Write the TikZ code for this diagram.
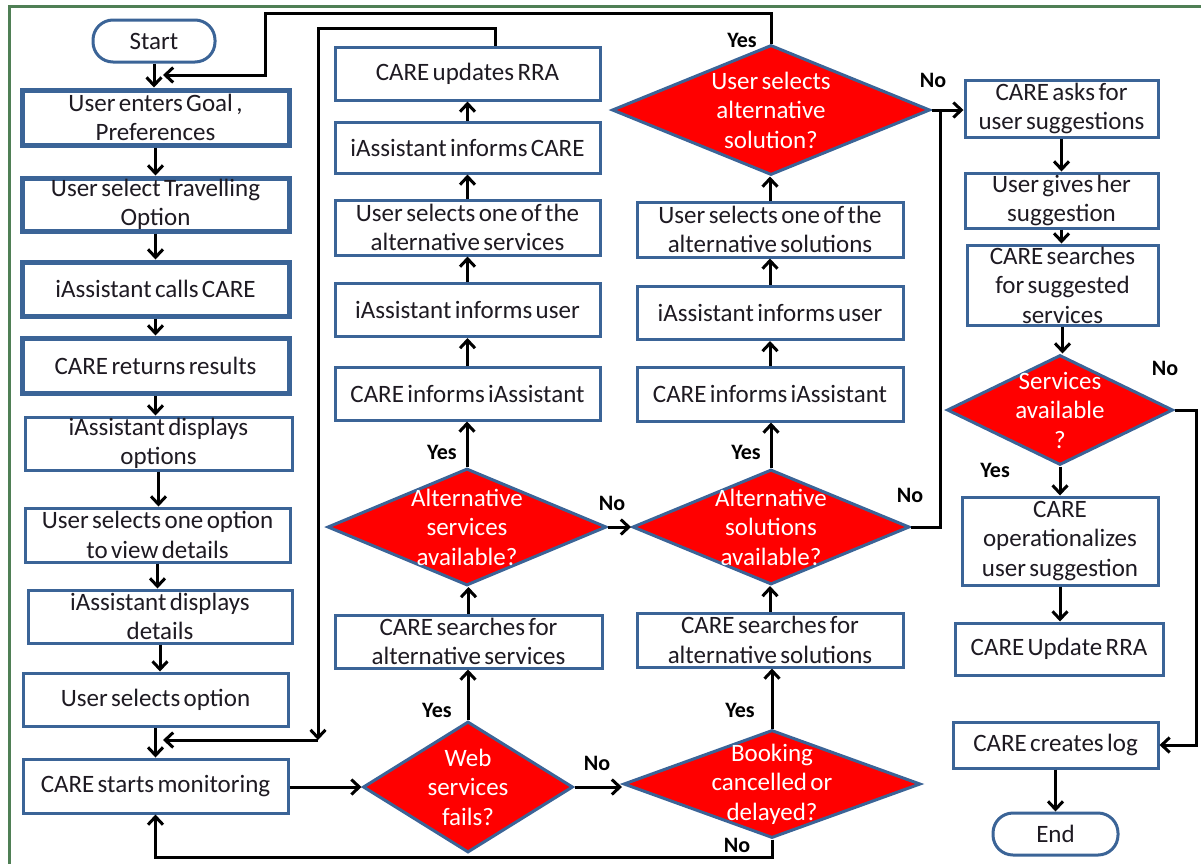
\documentclass[tikz,border=0pt]{standalone}
\usepackage{fontspec}
\setmainfont{Carlito}[WordSpace=0.6]
\usetikzlibrary{arrows.meta,shapes.geometric}
\definecolor{boxblue}{HTML}{3B6497}
\definecolor{framegreen}{HTML}{4F7F55}
\definecolor{txt}{HTML}{1E1A22}
\begin{document}
\begin{tikzpicture}[x=1pt,y=-1pt,
  every node/.style={font=\fontsize{25}{29.5}\selectfont, text=txt},
  proc/.style={rectangle, draw=boxblue, line width=3pt, fill=white, align=center,
    inner xsep=0pt, inner ysep=-8pt},
  heavy/.style={proc, line width=5pt},
  term/.style={proc, rounded corners=20pt},
  decision/.style={diamond, draw=boxblue, line width=3pt, fill=red, text=white,
    align=center, inner sep=-40pt},
  flow/.style={draw=black, line width=3pt},
  arr/.style={flow, -{Straight Barb[length=8pt,width=15pt]}},
  answer/.style={font=\fontsize{22}{26}\selectfont\bfseries, text=black, inner sep=0pt},
]
\useasboundingbox (0,0) rectangle (1201,863);

% outer frame
\draw[framegreen, line width=3pt] (9.5,900) -- (9.5,6.5) -- (1230,6.5);

% ---- left column: booking steps ----
\node[term, minimum width=122, minimum height=42] (start) at (154,41) {Start};
\node[heavy, minimum width=267, minimum height=55] (b1) at (155.5,117.5) {User enters Goal ,\\Preferences};
\node[heavy, minimum width=267, minimum height=53] (b2) at (155.5,204.5) {User select Travelling\\Option};
\node[heavy, minimum width=267, minimum height=54] (b3) at (155.5,289) {iAssistant calls CARE};
\node[heavy, minimum width=267, minimum height=55] (b4) at (155.5,365.5) {CARE returns results};
\node[proc, minimum width=267, minimum height=53] (b5) at (158.5,443.5) {iAssistant displays\\options};
\node[proc, minimum width=265, minimum height=54] (b6) at (157.5,535) {User selects one option\\to view details};
\node[proc, minimum width=264, minimum height=53] (b7) at (160,616.5) {iAssistant displays\\details};
\node[proc, minimum width=265, minimum height=53] (b8) at (155.5,699.5) {User selects option};
\node[proc, minimum width=265, minimum height=54] (b9) at (155.5,786) {CARE starts monitoring};

% ---- second column: failed web services ----
\node[proc, minimum width=265, minimum height=53] (m1) at (467.5,73.5) {CARE updates RRA};
\node[proc, minimum width=265, minimum height=51] (m2) at (467.5,147.5) {iAssistant informs CARE};
\node[proc, minimum width=265, minimum height=55] (m3) at (467.5,227.5) {User selects one of the\\alternative services};
\node[proc, minimum width=265, minimum height=53] (m4) at (467.5,310) {iAssistant informs user};
\node[proc, minimum width=265, minimum height=53] (m5) at (467.5,393.5) {CARE informs iAssistant};
\node[decision, minimum width=279, minimum height=117] (md1) at (467,527) {Alternative\\services\\available?};
\node[proc, minimum width=267, minimum height=53] (m6) at (468.5,641.5) {CARE searches for\\alternative services};
\node[decision, minimum width=210, minimum height=131] (md2) at (468,787) {Web\\services\\fails?};

% ---- third column: cancelled or delayed bookings ----
\node[decision, minimum width=318, minimum height=130] (nd3) at (771,110) {User selects\\alternative\\solution?};
\node[proc, minimum width=266, minimum height=55] (n1) at (770,229.5) {User selects one of the\\alternative solutions};
\node[proc, minimum width=266, minimum height=53] (n2) at (770,313) {iAssistant informs user};
\node[proc, minimum width=266, minimum height=54] (n3) at (770,394) {CARE informs iAssistant};
\node[decision, minimum width=277, minimum height=115] (nd2) at (771,527) {Alternative\\solutions\\available?};
\node[proc, minimum width=266, minimum height=54] (n4) at (770,640) {CARE searches for\\alternative solutions};
\node[decision, minimum width=297, minimum height=108] (nd1) at (772,784) {Booking\\cancelled or\\delayed?};

% ---- right column: user suggestions ----
\node[proc, minimum width=193, minimum height=57] (r1) at (1061.5,108.5) {CARE asks for\\user suggestions};
\node[proc, minimum width=193, minimum height=55] (r2) at (1061.5,200.5) {User gives her\\suggestion};
\node[proc, minimum width=191, minimum height=80] (r3) at (1062.5,285) {CARE searches\\for suggested\\services};
\node[decision, minimum width=226, minimum height=110] (rd) at (1060,410) {Services\\available\\?};
\node[proc, minimum width=196, minimum height=88] (r4) at (1060,541) {CARE\\operationalizes\\user suggestion};
\node[proc, minimum width=208, minimum height=52] (r5) at (1059,649) {CARE Update RRA};
\node[proc, minimum width=205, minimum height=46] (r6) at (1055.5,745) {CARE creates log};
\node[term, minimum width=125, minimum height=42] (end) at (1055.5,834) {End};

% junction points of the loop-back lines
\coordinate (upA) at (495,28);
\coordinate (upB) at (318,28);
\coordinate (upC) at (318,740);
\coordinate (upD) at (163,740);
\coordinate (topA) at (771,13);
\coordinate (topB) at (265,13);
\coordinate (topC) at (265,75);
\coordinate (topD) at (163,75);
\coordinate (sideA) at (940,110);
\coordinate (logA) at (1196,410);
\coordinate (logB) at (1196,745);
\coordinate (backA) at (155.5,857);

% left column flow
\draw[arr] (start.south) -- (start.south |- b1.north);
\draw[arr] (b1.south) -- (b1.south |- b2.north);
\draw[arr] (b2.south) -- (b2.south |- b3.north);
\draw[arr] (b3.south) -- (b3.south |- b4.north);
\draw[arr] (b4.south) -- (b4.south |- b5.north);
\draw[arr] (b5.south) -- (b5.south |- b6.north);
\draw[arr] (b6.south) -- (b6.south |- b7.north);
\draw[arr] (b7.south) -- (b7.south |- b8.north);
\draw[arr] (b8.south) -- (b8.south |- b9.north);
\draw[arr] (b9.east |- md2.west) -- (md2.west);

% second column flow
\draw[arr] (md2.north) -- (md2.north |- m6.south);
\draw[arr] (m6.north) -- (m6.north |- md1.south);
\draw[arr] (md1.north) -- (md1.north |- m5.south);
\draw[arr] (m5.north) -- (m5.north |- m4.south);
\draw[arr] (m4.north) -- (m4.north |- m3.south);
\draw[arr] (m3.north) -- (m3.north |- m2.south);
\draw[arr] (m2.north) -- (m2.north |- m1.south);
\draw[arr] (upA |- m1.north) -- (upA) -- (upB) -- (upC);
\draw[arr] (upC) -- (upD);
\draw[arr] (md1.east) -- (nd2.west);
\draw[arr] (md2.east) -- (md2.east -| nd1.west);

% third column flow
\draw[arr] (nd1.north) -- (nd1.north |- n4.south);
\draw[arr] (n4.north) -- (n4.north |- nd2.south);
\draw[arr] (nd2.north) -- (nd2.north |- n3.south);
\draw[arr] (n3.north) -- (n3.north |- n2.south);
\draw[arr] (n2.north) -- (n2.north |- n1.south);
\draw[arr] (n1.north) -- (n1.north |- nd3.south);
\draw[arr] (nd3.north) -- (topA) -- (topB) -- (topC) -- (topD);
\draw[arr] (nd3.east) -- (nd3.east -| r1.west);
\draw[flow] (nd2.east) -| (sideA);
\draw[arr] (nd1.south) |- (backA) -- (b9.south);

% right column flow
\draw[arr] (r1.south) -- (r1.south |- r2.north);
\draw[arr] (r2.south) -- (r2.south |- r3.north);
\draw[arr] (r3.south) -- (r3.south |- rd.north);
\draw[arr] (rd.south) -- (rd.south |- r4.north);
\draw[arr] (r4.south) -- (r4.south |- r5.north);
\draw[arr] (rd.east) -- (logA) -- (logB) -- (r6.east);
\draw[arr] (r6.south) -- (r6.south |- end.north);

% branch labels
\node[answer] (y1) at (437,710) {Yes};
\node[answer] (y2) at (442,452) {Yes};
\node[answer] (n1l) at (612,503) {No};
\node[answer] (n2l) at (597,763) {No};
\node[answer] (y3) at (740,710) {Yes};
\node[answer] (y4) at (746,452) {Yes};
\node[answer] (n3l) at (910,495) {No};
\node[answer] (y5) at (742,40) {Yes};
\node[answer] (n4l) at (933,80) {No};
\node[answer] (n5l) at (1165,368) {No};
\node[answer] (y6) at (995,470) {Yes};
\node[answer] (n6l) at (737,845) {No};
\end{tikzpicture}
\end{document}
